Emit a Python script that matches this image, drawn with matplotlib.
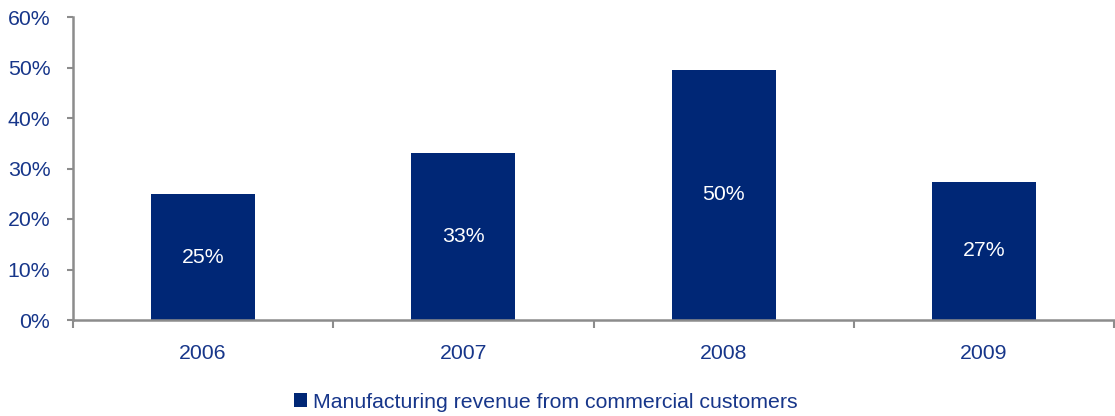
import matplotlib
matplotlib.use("Agg")
import matplotlib.pyplot as plt
from matplotlib.ticker import PercentFormatter

categories = ["2006", "2007", "2008", "2009"]
values = [0.249, 0.330, 0.496, 0.274]
labels = ["25%", "33%", "50%", "27%"]
series_name = "Manufacturing revenue from commercial customers"

plt.rcParams['font.family'] = ['Liberation Sans', 'DejaVu Sans']
text_color = '#17368A'
bar_color = '#002776'
axis_color = '#8C8C8C'
fs = 15.3

fig = plt.figure(figsize=(11.15, 4.16), dpi=100)
ax = fig.add_axes([73/1115, 1-320/416, (1114-73)/1115, (320-17)/416])

x = list(range(len(categories)))
bars = ax.bar(x, values, width=0.4, color=bar_color, label=series_name, zorder=2)
for b, v, l in zip(bars, values, labels):
    ax.text(b.get_x()+b.get_width()/2, v/2, l, ha='center', va='center',
            color='white', fontsize=fs)

ax.set_xlim(-0.5, 3.5)
ax.set_ylim(0, 0.6)
ax.set_yticks([0, 0.1, 0.2, 0.3, 0.4, 0.5, 0.6])
ax.yaxis.set_major_formatter(PercentFormatter(1.0, decimals=0))
ax.set_xticks(x)
ax.set_xticklabels(categories)
ax.set_xticks([-0.5, 0.5, 1.5, 2.5, 3.5], minor=True)
ax.tick_params(axis='x', which='major', length=0, pad=17, labelsize=fs, labelcolor=text_color)
ax.tick_params(axis='x', which='minor', length=6, width=1.5, color=axis_color, direction='out')
ax.tick_params(axis='y', length=4.3, width=1.5, color=axis_color, labelsize=fs, labelcolor=text_color, pad=12)

for s in ['top', 'right']:
    ax.spines[s].set_visible(False)
for s in ['left', 'bottom']:
    ax.spines[s].set_color(axis_color)
    ax.spines[s].set_linewidth(1.8)

leg = fig.legend(handles=[bars], labels=[series_name], loc='center',
                 bbox_to_anchor=(546/1115, 1-402/416), frameon=False,
                 fontsize=fs, handlelength=0.6, handleheight=0.6,
                 handletextpad=0.3, labelcolor=text_color)

fig.savefig("out.png", dpi=100)
